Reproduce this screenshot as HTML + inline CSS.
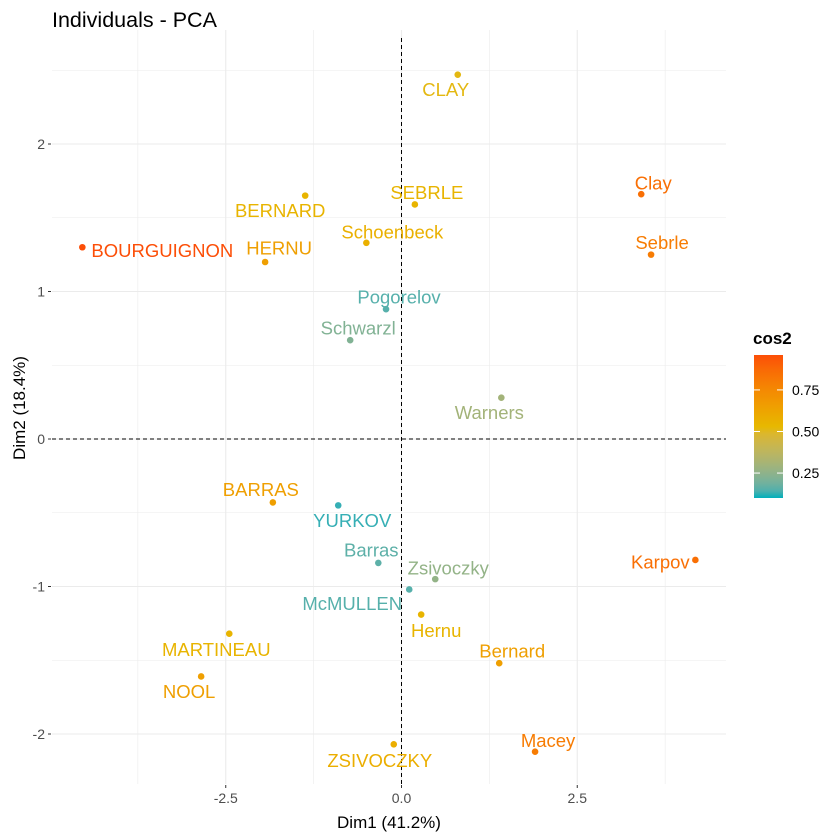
<!DOCTYPE html>
<html><head><meta charset="utf-8"><style>
body{margin:0;background:#fff;}
svg{display:block;font-family:"Liberation Sans",Arial,sans-serif;}
</style></head><body>
<svg id="chart" width="840" height="840">
<defs><linearGradient id="cg" x1="0" y1="1" x2="0" y2="0"></linearGradient></defs>
<text x="52" y="27" font-size="21.5" fill="#000">Individuals - PCA</text>
<g id="grid"></g><g id="axes"></g><g id="points"></g>
<text x="389" y="828" font-size="17" text-anchor="middle">Dim1 (41.2%)</text>
<text transform="translate(25,408) rotate(-90)" font-size="17" text-anchor="middle">Dim2 (18.4%)</text>
<g>
<text x="753" y="344" font-size="17" font-weight="bold">cos2</text>
<rect x="754" y="355" width="29" height="143" fill="url(#cg)"/>
<g id="legticks"></g>
</g>
</svg>
<script>
const names=["BOURGUIGNON","BERNARD","HERNU","Schoenbeck","SEBRLE","CLAY","Clay","Sebrle","Pogorelov","Schwarzl","Warners","BARRAS","YURKOV","Barras","Zsivoczky","McMULLEN","Hernu","Karpov","Bernard","MARTINEAU","NOOL","ZSIVOCZKY","Macey"];
const dim1=[-4.54,-1.37,-1.94,-0.50,0.19,0.80,3.41,3.55,-0.22,-0.73,1.42,-1.83,-0.90,-0.33,0.48,0.11,0.28,4.18,1.39,-2.45,-2.85,-0.11,1.90];
const dim2=[1.30,1.65,1.20,1.33,1.59,2.47,1.66,1.25,0.88,0.67,0.28,-0.43,-0.45,-0.84,-0.95,-1.02,-1.19,-0.82,-1.52,-1.32,-1.61,-2.07,-2.12];
const cos2=[0.96,0.55,0.65,0.57,0.55,0.52,0.85,0.80,0.15,0.22,0.30,0.65,0.12,0.16,0.26,0.15,0.55,0.85,0.65,0.55,0.65,0.58,0.80];
const xTicks=[-2.5,0,2.5];const xTickLabels=["-2.5","0.0","2.5"];
const yTicks=[-2,-1,0,1,2];const yTickLabels=["-2","-1","0","1","2"];
const legTicks=[0.25,0.5,0.75];const legTickLabels=["0.25","0.50","0.75"];
const labOff=[[80,3],[-25,15],[14,-14],[26,-11],[12,-12],[-12,15],[12,-11],[11,-12],[13,-12],[8,-12],[-12,15],[-12,-13],[14,15],[-7,-13],[13,-11],[-57,14],[15,16],[-35,2],[13,-12],[-13,16],[-12,15],[-14,16],[13,-11]];
const L=52,R=726,T=30,B=784;
const sx=v=>401.5+v*70.3, sy=v=>439-v*147.5;
const cmin=0.10,cmax=0.96;
const ly=v=>498-(v-cmin)/(cmax-cmin)*143;
function s2l(c){c/=255;return c<=0.04045?c/12.92:Math.pow((c+0.055)/1.055,2.4);}
function l2s(c){c=c<=0.0031308?12.92*c:1.055*Math.pow(c,1/2.4)-0.055;return Math.max(0,Math.min(255,Math.round(c*255)));}
function toLab(rgb){const [r,g,b]=rgb.map(s2l);let X=(0.4124*r+0.3576*g+0.1805*b)/0.95047,Y=0.2126*r+0.7152*g+0.0722*b,Z=(0.0193*r+0.1192*g+0.9505*b)/1.08883;
const f=t=>t>0.008856?Math.cbrt(t):7.787*t+16/116;const fx=f(X),fy=f(Y),fz=f(Z);return [116*fy-16,500*(fx-fy),200*(fy-fz)];}
function fromLab(l){const fy=(l[0]+16)/116,fx=fy+l[1]/500,fz=fy-l[2]/200;const fi=t=>t*t*t>0.008856?t*t*t:(t-16/116)/7.787;
const X=fi(fx)*0.95047,Y=fi(fy),Z=fi(fz)*1.08883;
return [l2s(3.2406*X-1.5372*Y-0.4986*Z),l2s(-0.9689*X+1.8758*Y+0.0415*Z),l2s(0.0557*X-0.2040*Y+1.0570*Z)];}
const LO=toLab([0,175,187]),MI=toLab([231,184,0]),HI=toLab([252,78,7]);
function colT(t){t=Math.max(0,Math.min(1,t));const a=t<0.5?LO:MI,b=t<0.5?MI:HI,u=t<0.5?t*2:(t-0.5)*2;
return `rgb(${fromLab(a.map((x,i)=>x+(b[i]-x)*u))})`;}
const col=v=>colT((v-cmin)/(cmax-cmin));
const NS="http://www.w3.org/2000/svg";
function mk(p,tag,at,txt){const e=document.createElementNS(NS,tag);for(const k in at)e.setAttribute(k,at[k]);if(txt!=null)e.textContent=txt;p.appendChild(e);return e;}
const cg=document.getElementById('cg');
for(let i=0;i<=20;i++)mk(cg,'stop',{offset:i/20,'stop-color':colT(i/20)});
const grid=document.getElementById('grid'),axes=document.getElementById('axes'),pts=document.getElementById('points'),lt=document.getElementById('legticks');
for(let v=-3.75;v<=4.5;v+=1.25){const major=Math.abs(v/2.5-Math.round(v/2.5))<1e-6;const x=sx(v);if(x<L||x>R)continue;
const g=mk(grid,'line',{x1:x,x2:x,y1:T,y2:B,stroke:'#ebebeb','stroke-width':major?1.1:0.6});

}
for(let v=-2.5;v<=2.5;v+=0.5){const major=Math.abs(v-Math.round(v))<1e-6;const y=sy(v);if(y<T||y>B)continue;
const g=mk(grid,'line',{x1:L,x2:R,y1:y,y2:y,stroke:'#ebebeb','stroke-width':major?1.1:0.6});

}
let h=mk(axes,'line',{x1:L,x2:R,y1:sy(0),y2:sy(0),stroke:'#000','stroke-dasharray':'4,3'});


let vl=mk(axes,'line',{x1:sx(0),x2:sx(0),y1:T+8,y2:B,stroke:'#000','stroke-dasharray':'4,3'});


xTicks.forEach((v,i)=>{const x=sx(v);mk(axes,'line',{x1:x,x2:x,y1:B+1,y2:B+4,stroke:'#333'});
const t=mk(axes,'text',{x:x,y:B+19,'font-size':14,fill:'#4d4d4d','text-anchor':'middle'},xTickLabels[i]);

});
yTicks.forEach((v,i)=>{const y=sy(v);mk(axes,'line',{x1:L-4,x2:L-1,y1:y,y2:y,stroke:'#333'});
const t=mk(axes,'text',{x:L-7,y:y+5,'font-size':14,fill:'#4d4d4d','text-anchor':'end'},yTickLabels[i]);

});
names.forEach((n,i)=>{const x=sx(dim1[i]),y=sy(dim2[i]),c=col(cos2[i]);
const p=mk(pts,'circle',{cx:x,cy:y,r:3.3,fill:c});


const t=mk(pts,'text',{x:x+labOff[i][0],y:y+labOff[i][1]+6.5,'font-size':18.5,fill:c,'text-anchor':'middle'},n);

});
legTicks.forEach((v,i)=>{const y=ly(v);
mk(lt,'line',{x1:754,x2:760,y1:y,y2:y,stroke:'#fff'});mk(lt,'line',{x1:777,x2:783,y1:y,y2:y,stroke:'#fff'});
const t=mk(lt,'text',{x:792,y:y+5,'font-size':14,fill:'#000'},legTickLabels[i]);

});
</script>
</body></html>
